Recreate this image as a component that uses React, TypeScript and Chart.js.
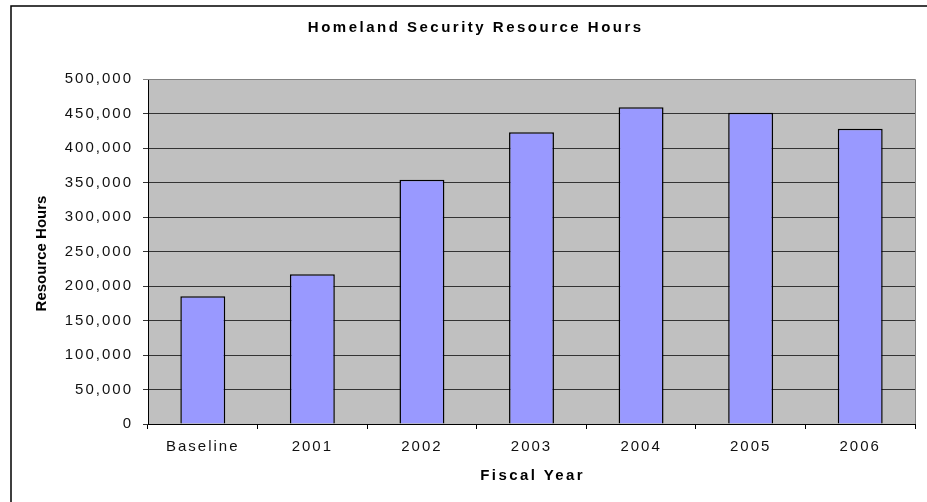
import React, { useEffect, useRef } from "react";
import { Chart, registerables } from "chart.js";

Chart.register(...registerables);

const categories = ["Baseline", "2001", "2002", "2003", "2004", "2005", "2006"];
const resourceHours = [185000, 217000, 354000, 423000, 459000, 451000, 428000];
const yMin = 0;
const yMax = 500000;
const yStep = 50000;
const chartTitle = "Homeland Security Resource Hours";
const xTitle = "Fiscal Year";
const yTitle = "Resource Hours";

const FONT = "'Liberation Sans', Arial, Helvetica, sans-serif";

function drawSpaced(ctx: CanvasRenderingContext2D, text: string, x: number, y: number, spacing: number) {
  ctx.save();
  (ctx as any).letterSpacing = spacing + "px";
  ctx.textAlign = "center";
  ctx.textBaseline = "middle";
  ctx.fillText(text, x + spacing / 2, y);
  ctx.restore();
}

const decorPlugin = {
  id: "decor",
  beforeDraw(chart: any) {
    const { ctx, chartArea } = chart;
    ctx.save();
    ctx.fillStyle = "#ffffff";
    ctx.fillRect(0, 0, chart.width, chart.height);
    ctx.fillStyle = "#C0C0C0";
    ctx.fillRect(chartArea.left, chartArea.top, chartArea.right - chartArea.left, chartArea.bottom - chartArea.top);
    ctx.restore();
    (ctx as any).letterSpacing = "2px";
  },
  afterDraw(chart: any) {
    const { ctx, chartArea } = chart;
    ctx.save();
    (ctx as any).letterSpacing = "0px";
    // outer frame
    ctx.strokeStyle = "#000";
    ctx.lineWidth = 1.5;
    ctx.strokeRect(11, 6, 960, 600);
    // plot top/right border
    ctx.strokeStyle = "#808080";
    ctx.lineWidth = 1;
    ctx.beginPath();
    ctx.moveTo(chartArea.left, chartArea.top + 0.5);
    ctx.lineTo(chartArea.right + 0.5, chartArea.top + 0.5);
    ctx.lineTo(chartArea.right + 0.5, chartArea.bottom);
    ctx.stroke();
    ctx.fillStyle = "#000";
    ctx.font = "bold 15px " + FONT;
    drawSpaced(ctx, chartTitle, 474.5, 28, 2.5);
    drawSpaced(ctx, xTitle, (chartArea.left + chartArea.right) / 2, 476, 2.4);
    ctx.save();
    ctx.translate(42, (chartArea.top + chartArea.bottom) / 2 + 2);
    ctx.rotate(-Math.PI / 2);
    ctx.textAlign = "center";
    ctx.textBaseline = "middle";
    ctx.fillText(yTitle, 0, 0);
    ctx.restore();
    ctx.restore();
  },
};

export default function App() {
  const canvasRef = useRef<HTMLCanvasElement | null>(null);

  useEffect(() => {
    if (!canvasRef.current) return;
    const chart = new Chart(canvasRef.current, {
      type: "bar",
      data: {
        labels: categories,
        datasets: [
          {
            data: resourceHours,
            backgroundColor: "#9999FF",
            borderColor: "#000000",
            borderWidth: 1.5,
            barPercentage: 0.41,
            categoryPercentage: 1,
          },
        ],
      },
      options: {
        responsive: false,
        animation: false,
        devicePixelRatio: 1,
        layout: { padding: { top: 79, right: 12, left: 0, bottom: 0 } },
        plugins: {
          legend: { display: false },
          title: { display: false },
          tooltip: { enabled: false },
        },
        scales: {
          x: {
            offset: true,
            grid: {
              display: true,
              offset: true,
              drawOnChartArea: false,
              drawTicks: true,
              tickLength: 5,
              color: "#000",
            },
            border: { display: true, color: "#000", width: 1 },
            ticks: {
              color: "#111",
              font: { family: FONT, size: 15 },
              padding: 9,
              maxRotation: 0,
              autoSkip: false,
            },
            afterFit(scale: any) {
              scale.height = 78;
            },
          },
          y: {
            min: yMin,
            max: yMax,
            grid: {
              color: (c: any) => (c.tick && c.tick.value === yMax ? "#808080" : "#333333"),
              lineWidth: 1,
              tickLength: 5,
              drawTicks: true,
            },
            border: { display: true, color: "#000", width: 1 },
            ticks: {
              stepSize: yStep,
              color: "#111",
              font: { family: FONT, size: 15 },
              padding: 10,
              callback: (v: any) => Number(v).toLocaleString("en-US"),
            },
            afterFit(scale: any) {
              scale.width = 148;
            },
          },
        },
      },
      plugins: [decorPlugin],
    });
    return () => chart.destroy();
  }, []);

  return (
    <div style={{ position: "absolute", left: 0, top: 0, width: 927, height: 502 }}>
      <canvas ref={canvasRef} width={927} height={502} style={{ display: "block" }} />
    </div>
  );
}
